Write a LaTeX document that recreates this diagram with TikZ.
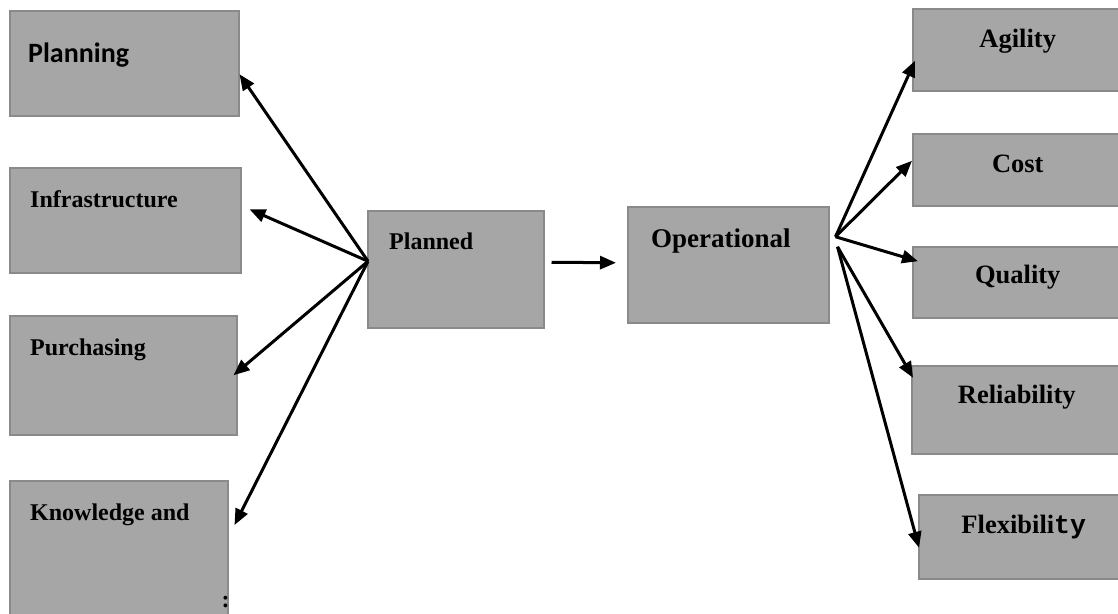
\documentclass[tikz,border=0pt]{standalone}
\usepackage{fontspec}
\setmainfont{Liberation Serif}
\setmonofont{Liberation Mono}
\newfontfamily\calfont{Carlito}
\usetikzlibrary{positioning}
\usetikzlibrary{calc}
\usetikzlibrary{arrows.meta}
\definecolor{boxgray}{RGB}{166,166,166}
\definecolor{boxedge}{RGB}{138,138,138}

\begin{document}
\begin{tikzpicture}[x=1pt,y=-1pt,
  box/.style={draw=boxedge,fill=boxgray,line width=1.5pt,rectangle,anchor=north west,inner sep=0pt},
  lbl/.style={font=\fontsize{24}{28}\selectfont\bfseries,inner sep=0pt,anchor=base west},
  rlbl/.style={font=\fontsize{26.5}{30}\selectfont\bfseries,inner sep=0pt,anchor=base},
  link/.style={-{Triangle[length=16pt,width=13pt]},line width=3pt}]
\useasboundingbox (0,0) rectangle (1118,613);
\clip (0,0) rectangle (1118,613);

% left column
\node[box,minimum width=229pt,minimum height=105pt] (plan) at (9,10) {};
\node[box,minimum width=231pt,minimum height=105pt] (infra) at (9,167) {};
\node[box,minimum width=227pt,minimum height=119pt] (purch) at (9,315) {};
\node[box,minimum width=218pt,minimum height=150pt] (know) at (9,480) {};
\node[lbl,font=\calfont\fontsize{28}{32}\selectfont\bfseries] (planT) at ($(plan.north west)+(19,52)$) {Planning};
\node[lbl] (infraT) at ($(infra.north west)+(21,40)$) {Infrastructure};
\node[lbl] (purchT) at ($(purch.north west)+(21,40)$) {Purchasing};
\node[lbl] (knowT) at ($(know.north west)+(21,40)$) {Knowledge and};
\node[lbl,anchor=base] (knowC) at ($(know.north east)+(-3,127)$) {:};

% middle
\node[box,minimum width=176pt,minimum height=117pt] (planned) at (367,210) {};
\node[box,minimum width=201pt,minimum height=116pt] (oper) at (627,206) {};
\node[lbl] (plannedT) at ($(planned.north west)+(22,39)$) {Planned};
\node[lbl,font=\fontsize{27}{31}\selectfont\bfseries] (operT) at ($(oper.north west)+(24,41)$) {Operational};

% right column
\node[box,minimum width=210pt,minimum height=82pt] (agil) at (912,8) {};
\node[box,minimum width=210pt,minimum height=72pt] (cost) at (912,133) {};
\node[box,minimum width=210pt,minimum height=71pt] (qual) at (912,246) {};
\node[box,minimum width=210pt,minimum height=88pt] (reli) at (911,365) {};
\node[box,minimum width=210pt,minimum height=84pt] (flex) at (918,494) {};
\node[rlbl] (agilT) at ($(agil.north)+(0,39)$) {Agility};
\node[rlbl] (costT) at ($(cost.north)+(0,39)$) {Cost};
\node[rlbl] (qualT) at ($(qual.north)+(0,37)$) {Quality};
\node[rlbl] (reliT) at ($(reli.north)+(0,38)$) {Reliability};
\node[rlbl] (flexT) at ($(flex.north)+(0,39)$) {Flexibili\texttt{\bfseries ty}};

% arrows
\coordinate (hubL) at ($(planned.west)+(1,-8)$);
\coordinate (hubR) at ($(oper.east)+(6,-28)$);
\draw[link] (hubL) -- ($(plan.east)+(0,11)$);
\draw[link] (hubL) -- ($(infra.east)+(8,-11)$);
\draw[link] (hubL) -- ($(purch.east)+(-4,0)$);
\draw[link] (hubL) -- ($(know.north east)+(6,45)$);
\draw[link] ($(planned.east)+(7,-7)$) -- ($(oper.west)+(-11,-2)$);
\draw[link] (hubR) -- ($(agil.west)+(3,11)$);
\draw[link] (hubR) -- ($(cost.west)+(0,-9)$);
\draw[link] (hubR) -- ($(qual.west)+(6,-21)$);
\draw[link] ($(hubR)+(2,10)$) -- ($(reli.west)+(2,-32)$);
\draw[link] ($(hubR)+(2,10)$) -- ($(flex.west)+(1,11)$);

\end{tikzpicture}
\end{document}
